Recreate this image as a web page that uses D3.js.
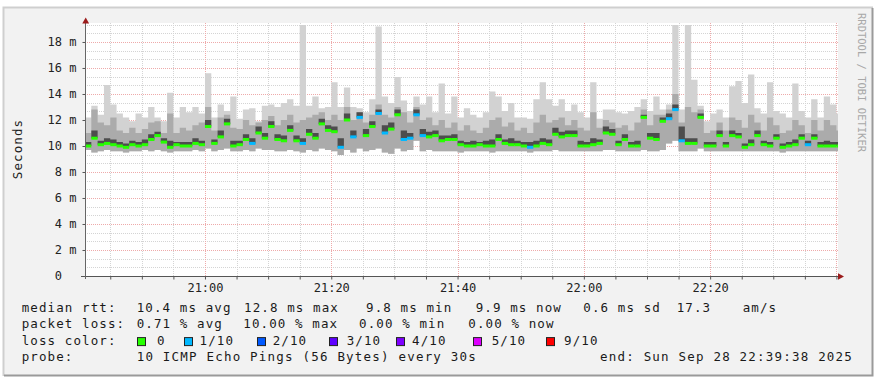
<!DOCTYPE html>
<html>
<head>
<meta charset="utf-8">
<style>
  body { margin: 0; background: #fff; }
  svg text { font-family: "DejaVu Sans Mono", monospace; }
</style>
</head>
<body>
<script src="https://cdn.jsdelivr.net/npm/d3@7"></script>
<script>
// values, in ms, one column per minute starting 20:41
var hi = [12.2, 13.1, 12.4, 14.7, 13.2, 12.5, 12.2, 11.9, 12.5, 12.2,
          13.0, 12.2, 11.9, 14.1, 12.2, 13.0, 12.6, 13.0, 12.5, 15.6,
          12.2, 13.2, 12.7, 13.8, 12.1, 12.8, 12.9, 11.9, 13.1, 13.2,
          13.0, 13.3, 13.6, 13.1, 19.3, 13.1, 13.8, 12.9, 13.0, 14.9,
          13.0, 14.5, 13.0, 12.9, 12.6, 13.6, 19.2, 13.8, 13.3, 15.3,
          13.5, 12.7, 13.8, 13.2, 13.8, 12.6, 14.8, 12.5, 13.8, 12.2,
          12.9, 12.4, 12.2, 12.6, 14.2, 13.8, 12.7, 13.3, 12.2, 12.2,
          12.1, 13.6, 14.9, 13.6, 13.1, 13.6, 12.7, 13.2, 12.6, 12.2,
          14.9, 12.1, 12.8, 12.8, 12.6, 12.5, 12.7, 13.0, 13.6, 12.7,
          13.8, 12.8, 13.2, 19.3, 12.8, 19.3, 15.1, 13.1, 11.9, 12.5,
          12.8, 12.2, 14.6, 15.0, 13.3, 15.5, 12.9, 12.5, 14.9, 12.7,
          12.5, 12.2, 14.8, 12.7, 12.2, 13.6, 12.2, 13.8, 13.2, 12.5];
var mid = [11.0, 12.8, 11.8, 11.6, 12.2, 11.2, 11.0, 11.4, 11.0, 11.3,
           11.8, 11.9, 11.0, 12.5, 11.0, 11.4, 11.2, 11.6, 11.8, 13.0,
           11.2, 12.2, 12.4, 11.4, 11.3, 12.0, 11.6, 11.8, 12.0, 12.3,
           11.6, 12.0, 12.4, 11.8, 12.0, 12.2, 12.4, 12.6, 12.0, 12.4,
           12.0, 13.0, 12.0, 12.6, 11.8, 12.4, 13.2, 12.4, 12.2, 13.0,
           12.6, 11.8, 13.0, 12.0, 12.2, 11.6, 12.0, 11.4, 11.8, 11.2,
           11.6, 11.2, 11.0, 11.4, 12.0, 12.2, 11.5, 11.8, 11.2, 11.4,
           11.0, 11.8, 12.4, 11.8, 12.0, 12.2, 11.6, 12.0, 11.4, 11.2,
           12.6, 11.4, 12.0, 11.8, 11.4, 11.6, 11.2, 11.8, 12.8, 11.6,
           12.4, 12.4, 12.8, 14.0, 11.8, 13.0, 12.6, 12.8, 11.0, 11.2,
           11.8, 11.2, 12.2, 12.0, 11.4, 12.4, 11.8, 11.2, 12.2, 11.6,
           11.0, 11.2, 12.0, 11.6, 11.0, 12.0, 11.2, 12.0, 11.6, 11.2];
var core = [10.3, 11.2, 10.4, 10.6, 10.5, 10.3, 10.2, 10.4, 10.3, 10.5,
            10.9, 11.1, 10.6, 10.4, 10.3, 10.3, 10.3, 10.6, 10.4, 12.0,
            10.5, 11.2, 12.1, 10.4, 10.4, 10.9, 10.6, 11.5, 11.0, 11.9,
            10.9, 10.8, 11.6, 10.8, 10.6, 11.3, 11.0, 12.1, 11.6, 11.5,
            10.6, 12.5, 11.2, 12.6, 11.3, 11.9, 12.8, 11.6, 11.8, 12.8,
            11.2, 11.0, 12.8, 11.3, 11.1, 11.2, 10.8, 10.8, 10.9, 10.4,
            10.3, 10.4, 10.3, 10.4, 10.5, 10.9, 10.5, 10.6, 10.4, 10.3,
            10.3, 10.4, 10.6, 10.5, 11.4, 11.1, 11.2, 11.2, 10.4, 10.3,
            10.6, 10.5, 11.5, 11.3, 10.4, 10.9, 10.3, 10.4, 12.4, 11.0,
            11.0, 12.2, 12.5, 13.2, 11.5, 10.6, 10.6, 12.5, 10.3, 10.3,
            11.2, 10.3, 11.2, 11.0, 10.2, 10.5, 11.2, 10.4, 10.3, 10.9,
            10.2, 10.3, 10.5, 10.9, 10.4, 10.9, 10.3, 10.4, 10.3, 10.3];
var med = [10.0, 10.6, 10.1, 10.2, 10.1, 10.0, 9.9, 10.1, 10.0, 10.1,
           10.5, 10.8, 10.3, 9.9, 10.1, 10.0, 10.0, 10.2, 10.1, 11.5,
           10.2, 10.7, 11.7, 10.0, 10.1, 10.5, 10.2, 11.0, 10.6, 11.5,
           10.5, 10.4, 11.2, 10.4, 10.2, 10.9, 10.6, 11.7, 11.2, 11.1,
           9.9, 12.0, 10.7, 12.2, 10.8, 11.5, 12.5, 11.0, 11.3, 12.4,
           10.5, 10.6, 12.4, 10.8, 10.7, 10.8, 10.4, 10.5, 10.5, 10.1,
           10.0, 10.0, 10.1, 10.0, 10.0, 10.5, 10.2, 10.1, 10.1, 10.0,
           9.9, 10.0, 10.2, 10.1, 10.9, 10.7, 10.8, 10.8, 10.0, 10.0,
           10.1, 10.2, 11.0, 10.9, 10.1, 10.5, 10.0, 10.0, 12.2, 10.6,
           10.5, 11.9, 12.1, 12.8, 10.4, 10.2, 10.2, 12.2, 10.0, 10.0,
           10.8, 10.0, 10.8, 10.7, 9.9, 10.1, 10.8, 10.1, 10.0, 10.6,
           9.9, 10.0, 10.1, 10.6, 10.1, 10.6, 10.0, 10.0, 10.0, 10.0];
var lo = [9.7, 9.5, 9.6, 9.7, 9.6, 9.6, 9.5, 9.6, 9.6, 9.7,
          9.6, 9.7, 9.6, 9.5, 9.6, 9.6, 9.6, 9.7, 9.6, 9.8,
          9.6, 9.7, 9.8, 9.6, 9.6, 9.7, 9.6, 9.8, 9.7, 9.7,
          9.6, 9.6, 9.7, 9.6, 9.5, 9.7, 9.6, 9.8, 9.7, 9.6,
          9.3, 9.7, 9.5, 9.8, 9.6, 9.7, 9.8, 9.5, 9.4, 9.8,
          9.6, 9.7, 10.4, 9.6, 9.7, 9.6, 9.6, 9.6, 9.6, 9.5,
          9.6, 9.6, 9.6, 9.6, 9.5, 9.6, 9.6, 9.6, 9.6, 9.6,
          9.5, 9.6, 9.6, 9.6, 9.7, 9.6, 9.6, 9.6, 9.6, 9.6,
          9.6, 9.6, 9.7, 9.7, 9.6, 9.6, 9.6, 9.6, 9.7, 9.6,
          9.6, 9.7, 10.2, 10.4, 9.6, 9.6, 9.6, 9.8, 9.6, 9.6,
          9.6, 9.6, 9.6, 9.6, 9.6, 9.6, 9.6, 9.6, 9.6, 9.6,
          9.5, 9.6, 9.6, 9.6, 9.6, 9.6, 9.6, 9.6, 9.6, 9.6];
// columns where 1 of 10 pings got lost
var lossSteps = [26, 34, 40, 42, 43, 46, 47, 50, 51, 52, 53, 70, 92, 93, 94, 114];

var yTicks = [0, 2, 4, 6, 8, 10, 12, 14, 16, 18];
var lossNames = ["0", "1/10", "2/10", "3/10", "4/10", "5/10", "9/10"];
var lossColors = ["#26ff00", "#00b8ff", "#0059ff", "#5e00ff", "#7e00ff", "#dd00ff", "#ff0000"];
var rowLabels = ["median rtt:", "packet loss:", "loss color:", "probe:"];
var rttStats = ["10.4 ms avg", "12.8 ms max", "9.8 ms min", "9.9 ms now", "0.6 ms sd", "17.3", "am/s"];
var lossStats = ["0.71 % avg", "10.00 % max", "0.00 % min", "0.00 % now"];
var probeText = "10 ICMP Echo Pings (56 Bytes) every 30s";
var endText = "end: Sun Sep 28 22:39:38 2025";

// layout
var W = 877, H = 384;
var plotL = 85, plotR = 838, plotT = 23, plotB = 276;
var rttX = [136.7, 244, 366, 475.7, 583.3, 676.7, 742.7];
var lossX = [136.7, 243.3, 359, 468.3];
var boxX = [137, 184, 257, 329, 396, 473, 546];
var boxTextX = [157, 199.5, 272.7, 346.7, 412, 491.7, 564];
var rowY = [312, 328.3, 344.6, 360.8];

var start = new Date(2025, 8, 28, 20, 41, 0);
var end = new Date(2025, 8, 28, 22, 40, 15);

var x = d3.scaleTime().domain([start, end]).range([plotL, plotR]);
var y = d3.scaleLinear().domain([0, 19.46]).range([plotB, plotT]);

var svg = d3.select("body").append("svg")
    .attr("width", W)
    .attr("height", H);

// frame
svg.append("rect").attr("x", 3).attr("y", 7).attr("width", 870).attr("height", 369).attr("fill", "#f2f2f2");
svg.append("path").attr("d", "M3.5,376V7.5H873").attr("fill", "none").attr("stroke", "#cfcfcf").attr("stroke-width", 2);
svg.append("path").attr("d", "M4,375.5H872.5V8").attr("fill", "none").attr("stroke", "#9a9a9a").attr("stroke-width", 2);

svg.append("rect").attr("x", plotL).attr("y", plotT).attr("width", plotR - plotL).attr("height", plotB - plotT).attr("fill", "#fff");

// grid
var grid = svg.append("g");
var minorY = d3.range(1, 30).map(function(k) { return k * 2 / 3; })
    .filter(function(v, k) { return (k + 1) % 3 !== 0 && v < 19.46; });
grid.selectAll("line.hmin").data(minorY).enter().append("line")
    .attr("x1", plotL).attr("x2", plotR)
    .attr("y1", function(d) { return Math.round(y(d)) + 0.5; })
    .attr("y2", function(d) { return Math.round(y(d)) + 0.5; })
    .attr("stroke", "#d4d4d4").attr("stroke-dasharray", "1,1");
var fiveMin = d3.timeMinute.every(5).range(start, end);
grid.selectAll("line.vmin").data(fiveMin.filter(function(d) { return d.getMinutes() % 20 !== 0; }))
    .enter().append("line")
    .attr("y1", plotT).attr("y2", plotB)
    .attr("x1", function(d) { return Math.round(x(d)) + 0.5; })
    .attr("x2", function(d) { return Math.round(x(d)) + 0.5; })
    .attr("stroke", "#d4d4d4").attr("stroke-dasharray", "1,1");
grid.selectAll("line.hmaj").data(yTicks.slice(1)).enter().append("line")
    .attr("x1", plotL).attr("x2", plotR)
    .attr("y1", function(d) { return Math.round(y(d)) + 0.5; })
    .attr("y2", function(d) { return Math.round(y(d)) + 0.5; })
    .attr("stroke", "#eeaaaa").attr("stroke-dasharray", "1,1");
grid.selectAll("line.vmaj").data(fiveMin.filter(function(d) { return d.getMinutes() % 20 === 0; }))
    .enter().append("line")
    .attr("y1", plotT).attr("y2", plotB)
    .attr("x1", function(d) { return Math.round(x(d)) + 0.5; })
    .attr("x2", function(d) { return Math.round(x(d)) + 0.5; })
    .attr("stroke", "#eeaaaa").attr("stroke-dasharray", "1,1");

// smoke
svg.append("clipPath").attr("id", "plotclip").append("rect")
    .attr("x", plotL).attr("y", plotT).attr("width", plotR - plotL).attr("height", plotB - plotT);
var plot = svg.append("g").attr("clip-path", "url(#plotclip)");

var steps = hi.map(function(h, i) {
    return {
        t: d3.timeMinute.offset(start, i),
        hi: h, mid: mid[i], core: core[i], med: med[i], lo: lo[i],
        loss: lossSteps.indexOf(i) >= 0 ? 1 : 0
    };
});
var series = steps.concat([Object.assign({}, steps[steps.length - 1],
    { t: d3.timeMinute.offset(start, steps.length) })]);

function band(topKey, bottomKey, color) {
    var area = d3.area()
        .curve(d3.curveStepAfter)
        .x(function(d) { return x(d.t); })
        .y0(function(d) { return y(d[bottomKey]); })
        .y1(function(d) { return y(d[topKey]); });
    plot.append("path").datum(series).attr("d", area).attr("fill", color);
}
function stepW(d) { return x(d3.timeMinute.offset(d.t, 1)) - x(d.t); }

band("hi", "lo", "#d2d2d2");
band("mid", "lo", "#ababab");
band("core", "med", "#4d4d4d");

// median, coloured by loss
plot.selectAll("rect.med").data(steps).enter().append("rect")
    .attr("x", function(d) { return x(d.t); })
    .attr("width", stepW)
    .attr("y", function(d) { return y(d.med) - 1.5; })
    .attr("height", 3)
    .attr("fill", function(d) { return lossColors[d.loss]; });

// axes
var fmt = d3.timeFormat("%H:%M");
var lastLabel = d3.timeMinute.offset(end, -5);
var xAxis = svg.append("g")
    .attr("transform", "translate(0," + (plotB + 0.5) + ")")
    .call(d3.axisBottom(x).tickValues(fiveMin).tickSize(3).tickPadding(3.5).tickSizeOuter(0)
        .tickFormat(function(d) { return d.getMinutes() % 20 === 0 && d < lastLabel ? fmt(d) : ""; }));
var yAxis = svg.append("g")
    .attr("transform", "translate(" + (plotL + 0.5) + ",0)")
    .call(d3.axisLeft(y).tickValues(yTicks).tickSize(3).tickPadding(6).tickSizeOuter(0)
        .tickFormat(function(d) { return d === 0 ? "0" : d + " m"; }));
[xAxis, yAxis].forEach(function(a) {
    a.select(".domain").remove();
    a.selectAll(".tick line").attr("stroke", "#555");
    a.selectAll(".tick text").attr("fill", "#222").style("font-size", "12px")
        .style("font-family", "'DejaVu Sans Mono', monospace");
});
yAxis.selectAll(".tick").filter(function(d) { return d === 0; }).select("text").attr("dx", -14.5);

svg.append("line").attr("x1", 81).attr("x2", 839).attr("y1", plotB + 0.5).attr("y2", plotB + 0.5)
    .attr("stroke", "#555");
svg.append("line").attr("x1", plotL + 0.5).attr("x2", plotL + 0.5).attr("y1", plotB + 3).attr("y2", 21)
    .attr("stroke", "#666");
svg.append("path").attr("d", "M85.7,17.5L82.3,23.5L89.1,23.5Z").attr("fill", "#9b1b1b");
svg.append("path").attr("d", "M844,276.5L838,273.2L838,279.8Z").attr("fill", "#9b1b1b");

// y title and watermark
svg.append("text")
    .attr("transform", "translate(21.5,149) rotate(-90)")
    .attr("text-anchor", "middle")
    .style("font-size", "12.5px").style("letter-spacing", "1.1px")
    .attr("fill", "#222")
    .text("Seconds");
svg.append("text")
    .attr("transform", "translate(858,13) rotate(90)")
    .style("font-size", "10.5px")
    .attr("fill", "#a8a8a8")
    .text("RRDTOOL / TOBI OETIKER");

// legend
var legend = svg.append("g")
    .style("font-size", "12.5px").style("letter-spacing", "1.1px")
    .attr("fill", "#1a1a1a");
rowLabels.forEach(function(t, i) {
    legend.append("text").attr("x", 21.7).attr("y", rowY[i]).text(t);
});
rttStats.forEach(function(t, i) {
    legend.append("text").attr("x", rttX[i]).attr("y", rowY[0]).text(t);
});
lossStats.forEach(function(t, i) {
    legend.append("text").attr("x", lossX[i]).attr("y", rowY[1]).text(t);
});
lossNames.forEach(function(t, i) {
    legend.append("rect").attr("x", boxX[i] + 0.5).attr("y", rowY[2] - 7).attr("width", 8).attr("height", 8)
        .attr("fill", lossColors[i]).attr("stroke", "#222").attr("stroke-width", 1);
    legend.append("text").attr("x", boxTextX[i]).attr("y", rowY[2]).text(t);
});
legend.append("text").attr("x", 136.7).attr("y", rowY[3]).style("letter-spacing", "1.2px").text(probeText);
legend.append("text").attr("x", 600).attr("y", rowY[3]).style("letter-spacing", "1.2px").text(endText);
</script>
</body>
</html>
